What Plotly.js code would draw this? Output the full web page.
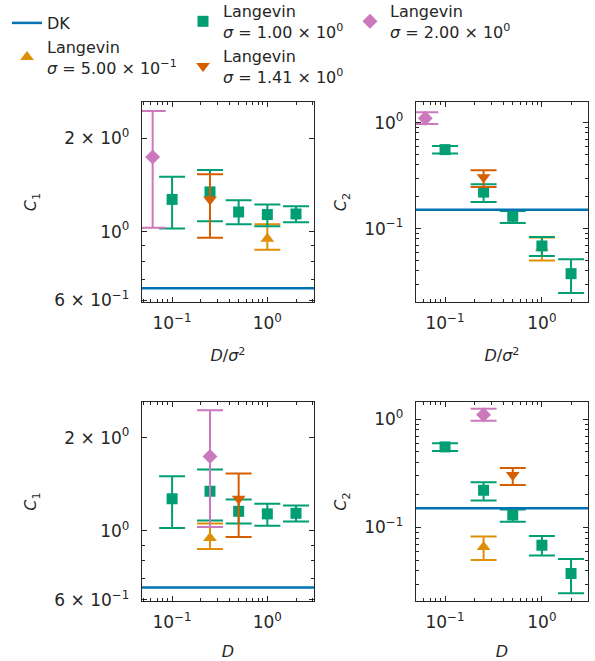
<!DOCTYPE html>
<html>
<head>
<meta charset="utf-8">
<script src="https://cdn.plot.ly/plotly-3.0.1.min.js"></script>
<style>html,body{margin:0;padding:0;background:#fff;}#chart{width:595px;height:661px;}</style>
</head>
<body>
<div id="chart"></div>
<script>
// ---- data ----
const DK_C1 = 0.657;
const DK_C2 = 0.151;

// sigma = 0.50
const D_s050 = [0.25];
const C1_s050 = [0.949];
const C1_s050_hi = [1.056];
const C1_s050_lo = [0.874];
const C2_s050 = [0.066];
const C2_s050_hi = [0.0825];
const C2_s050_lo = [0.050];

// sigma = 1.00
const D_s100 = [0.1, 0.25, 0.5, 1, 2];
const C1_s100 = [1.27, 1.343, 1.157, 1.135, 1.14];
const C1_s100_hi = [1.502, 1.579, 1.263, 1.223, 1.207];
const C1_s100_lo = [1.023, 1.08, 1.056, 1.040, 1.072];
const C2_s100 = [0.556, 0.221, 0.1306, 0.0686, 0.0376];
const C2_s100_hi = [0.601, 0.262, 0.1466, 0.0833, 0.0513];
const C2_s100_lo = [0.510, 0.178, 0.113, 0.0552, 0.0247];

// sigma = 1.41
const D_s141 = [0.5];
const C1_s141 = [1.27];
const C1_s141_hi = [1.532];
const C1_s141_lo = [0.956];
const C2_s141 = [0.305];
const C2_s141_hi = [0.355];
const C2_s141_lo = [0.247];

// sigma = 2.00
const D_s200 = [0.25];
const C1_s200 = [1.74];
const C1_s200_hi = [2.45];
const C1_s200_lo = [1.03];
const C2_s200 = [1.1];
const C2_s200_hi = [1.25];
const C2_s200_lo = [0.97];

const sigmas = [0.5, 1.0, 1.4142, 2.0];
const sigmaLabels = ['5.00 × 10<sup>−1</sup>', '1.00 × 10<sup>0</sup>', '1.41 × 10<sup>0</sup>', '2.00 × 10<sup>0</sup>'];

const xTickVals = [0.1, 1];
const xTickText = ['10<sup>−1</sup>', '10<sup>0</sup>'];
const xMinor = [0.05, 0.06, 0.07, 0.08, 0.09, 0.2, 0.3, 0.4, 0.5, 0.6, 0.7, 0.8, 0.9, 2, 3];
const c1TickVals = [0.6, 1, 2];
const c1TickText = ['6 × 10<sup>−1</sup>', '10<sup>0</sup>', '2 × 10<sup>0</sup>'];
const c1Minor = [0.7, 0.8, 0.9];
const c2TickVals = [0.1, 1];
const c2TickText = ['10<sup>−1</sup>', '10<sup>0</sup>'];
const c2Minor = [0.02, 0.03, 0.04, 0.05, 0.06, 0.07, 0.08, 0.09, 0.2, 0.3, 0.4, 0.5, 0.6, 0.7, 0.8, 0.9];

// ---- style ----
const INK = '#262626';
const FONT = 'DejaVu Sans, sans-serif';
const colors = ['#de8f05', '#029e73', '#d55e00', '#cc78bc'];
const symbols = ['triangle-up', 'square', 'triangle-down', 'diamond'];
const msizes = [12, 11, 12, 11.5];
const legends = ['legend', 'legend2', 'legend2', 'legend3'];

const series = [
  {D: D_s050, C1: C1_s050, C1hi: C1_s050_hi, C1lo: C1_s050_lo, C2: C2_s050, C2hi: C2_s050_hi, C2lo: C2_s050_lo},
  {D: D_s100, C1: C1_s100, C1hi: C1_s100_hi, C1lo: C1_s100_lo, C2: C2_s100, C2hi: C2_s100_hi, C2lo: C2_s100_lo},
  {D: D_s141, C1: C1_s141, C1hi: C1_s141_hi, C1lo: C1_s141_lo, C2: C2_s141, C2hi: C2_s141_hi, C2lo: C2_s141_lo},
  {D: D_s200, C1: C1_s200, C1hi: C1_s200_hi, C1lo: C1_s200_lo, C2: C2_s200, C2hi: C2_s200_hi, C2lo: C2_s200_lo}
];

const traces = [];
const panels = [
  {xa: 'x', ya: 'y', key: 'C1', scaled: true},
  {xa: 'x2', ya: 'y2', key: 'C2', scaled: true},
  {xa: 'x3', ya: 'y3', key: 'C1', scaled: false},
  {xa: 'x4', ya: 'y4', key: 'C2', scaled: false}
];

// DK legend entry (line); the horizontal lines themselves are shapes
traces.push({
  type: 'scatter', mode: 'lines', x: [null], y: [null],
  xaxis: 'x', yaxis: 'y',
  name: 'DK', legend: 'legend', legendgroup: 'dk', showlegend: true,
  line: {color: '#0173b2', width: 2.5}
});

panels.forEach((p, pi) => {
  series.forEach((s, si) => {
    const s2 = sigmas[si] * sigmas[si];
    const xs = p.scaled ? s.D.map(d => d / s2) : s.D.slice();
    const ys = s[p.key];
    const hi = s[p.key + 'hi'];
    const lo = s[p.key + 'lo'];
    traces.push({
      type: 'scatter', mode: 'markers',
      x: xs, y: ys,
      xaxis: p.xa, yaxis: p.ya,
      name: 'Langevin<br><i>σ</i> = ' + sigmaLabels[si],
      legendgroup: 'g' + si,
      legend: legends[si],
      showlegend: pi === 0,
      marker: {color: colors[si], symbol: symbols[si], size: msizes[si], line: {width: 0}},
      error_y: {
        type: 'data', symmetric: false,
        array: ys.map((v, i) => hi[i] - v),
        arrayminus: ys.map((v, i) => v - lo[i]),
        color: colors[si], thickness: 2, width: 13
      }
    });
  });
});

const shapes = panels.map(p => ({
  type: 'line', xref: p.xa + ' domain', yref: p.ya,
  x0: 0, x1: 1,
  y0: p.key === 'C1' ? DK_C1 : DK_C2, y1: p.key === 'C1' ? DK_C1 : DK_C2,
  line: {color: '#0173b2', width: 2.5}, layer: 'above'
}));

function axis(extra) {
  return Object.assign({
    type: 'log', showline: true, linecolor: INK, linewidth: 1.25, mirror: 'ticks',
    ticks: 'inside', ticklen: 5, tickwidth: 1, tickcolor: INK,
    showgrid: false, zeroline: false,
    tickfont: {family: FONT, size: 17, color: INK},
    tickmode: 'array',
    minor: {ticks: 'inside', ticklen: 3, tickwidth: 1, tickcolor: INK, showgrid: false, tickmode: 'array'}
  }, extra);
}

const W = 595, H = 661;
const xdL = [142 / W, 314 / W], xdR = [416 / W, 588 / W];
const ydT = [1 - 302 / H, 1 - 102 / H], ydB = [1 - 601 / H, 1 - 402 / H];

function xax(domain, range, anchor, title, standoff) {
  const a = axis({domain: domain, range: range, anchor: anchor, tickvals: xTickVals, ticktext: xTickText,
    ticklabelstandoff: 5,
    title: {text: title, font: {family: FONT, size: 16, color: INK}, standoff: standoff}});
  a.minor.tickvals = xMinor;
  return a;
}
function yax(domain, range, anchor, key) {
  const isC1 = key === 'C1';
  const a = axis({domain: domain, range: range, anchor: anchor,
    tickvals: isC1 ? c1TickVals : c2TickVals, ticktext: isC1 ? c1TickText : c2TickText,
    ticklabelstandoff: 8,
    title: {text: isC1 ? '<i>C</i><sub>1</sub>' : '<i>C</i><sub>2</sub>', font: {family: FONT, size: 16, color: INK}, standoff: 13}});
  a.minor.tickvals = isC1 ? c1Minor : c2Minor;
  return a;
}

const legendBase = {
  orientation: 'v', xanchor: 'left', yanchor: 'top',
  bgcolor: 'rgba(0,0,0,0)', borderwidth: 0,
  font: {family: FONT, size: 16, color: INK},
  itemwidth: 30, tracegroupgap: 0
};

const layout = {
  width: W, height: H,
  margin: {l: 0, r: 0, t: 0, b: 0, autoexpand: false},
  paper_bgcolor: '#fff', plot_bgcolor: '#fff',
  font: {family: FONT, color: INK},
  showlegend: true,
  legend: Object.assign({}, legendBase, {x: 7 / W, y: 1 - 6 / H}),
  legend2: Object.assign({}, legendBase, {x: 183 / W, y: 1 + 6 / H}),
  legend3: Object.assign({}, legendBase, {x: 350 / W, y: 1 + 6 / H}),
  xaxis: xax(xdL, [-1.316, 0.49], 'y', '<i>D</i>/<i>σ</i><sup>2</sup>', 18),
  yaxis: yax(ydT, [-0.227, 0.418], 'x', 'C1'),
  xaxis2: xax(xdR, [-1.30, 0.476], 'y2', '<i>D</i>/<i>σ</i><sup>2</sup>', 18),
  yaxis2: yax(ydT, [-1.692, 0.194], 'x2', 'C2'),
  xaxis3: xax(xdL, [-1.316, 0.49], 'y3', '<i>D</i>', 15),
  yaxis3: yax(ydB, [-0.226, 0.416], 'x3', 'C1'),
  xaxis4: xax(xdR, [-1.30, 0.476], 'y4', '<i>D</i>', 15),
  yaxis4: yax(ydB, [-1.679, 0.16], 'x4', 'C2'),
  shapes: shapes
};

Plotly.newPlot('chart', traces, layout, {staticPlot: true, displayModeBar: false});
</script>
</body>
</html>
